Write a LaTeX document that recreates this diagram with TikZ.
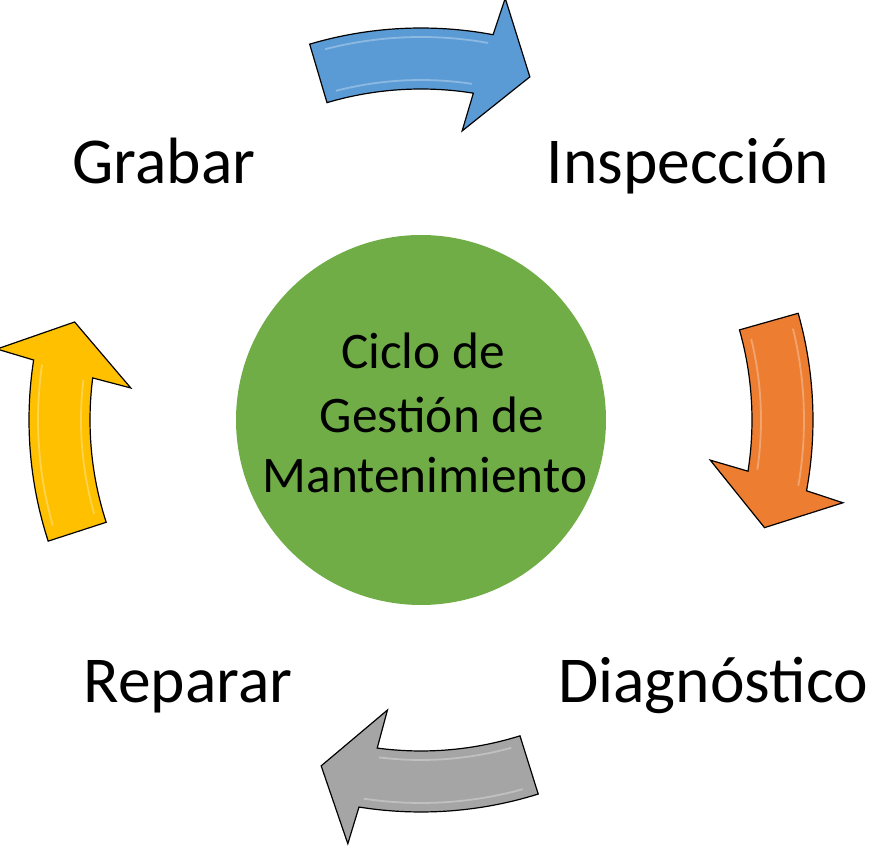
\documentclass[tikz,border=0pt]{standalone}
\usepackage{fontspec}
\setmainfont{Carlito}
\usepackage{tikz}
\definecolor{hubgreen}{RGB}{112,173,71}
\definecolor{arrowblue}{RGB}{91,155,213}
\definecolor{arroworange}{RGB}{237,125,49}
\definecolor{arrowgray}{RGB}{165,165,165}
\definecolor{arrowgold}{RGB}{255,192,0}
\tikzset{
x=1pt, y=1pt, % one unit is one pixel of the sketch
stage/.style={font=\fontsize{65.5}{79}\selectfont, anchor=base}, % the four steps round the cycle
hubtext/.style={font=\fontsize{51.3}{62}\selectfont, anchor=base}, % the lines inside the circle
cyclearrow/.style={draw=black, line width=1.2pt, line join=miter}, % the curved block arrows
bevel/.style={white, opacity=0.3, line width=1.8pt}, % light edge along each arrow
}

\begin{document}
\begin{tikzpicture}
		\useasboundingbox (0,0) rectangle (876,852);
		\node[circle, fill=hubgreen, minimum size=370, inner sep=0] (hub) at (421,432) {};
		\node[hubtext] (ciclo) at (423,483) {Ciclo de};
		\node[hubtext] (gestion) at (432,419) {Gestión de};
		\node[hubtext] (mant) at (425,359) {Mantenimiento};

		\node[stage] (grabar) at (164,668) {Grabar};
		\node[stage] (inspeccion) at (688,668) {Inspección};
		\node[stage] (diagnostico) at (713,149) {Diagnóstico};
		\node[stage] (reparar) at (188,149) {Reparar};

		\begin{scope}[shift={(hub.center)}]
			\foreach \tail/\notch/\col in {106.5/79.4/arrowblue, 15.8/-10.4/arroworange,
					-72.6/-99.1/arrowgray, 198/171.2/arrowgold}{
				\draw[cyclearrow, fill=\col] (\tail:392) arc[start angle=\tail, end angle=\notch, radius=392]
					-- ({\notch-0.7}:430) -- ({\notch-7}:360) -- ({\notch+2.5}:292) -- ({\notch+1.5}:331)
					arc[start angle={\notch+1.5}, end angle=\tail, radius=331] -- cycle;
				\draw[bevel] ({\tail-2}:383) arc[start angle={\tail-2}, end angle={\notch+0.5}, radius=383];
				\draw[bevel] ({\tail-2}:340) arc[start angle={\tail-2}, end angle={\notch+2}, radius=340];
			}
		\end{scope}
	\end{tikzpicture}
\end{document}
